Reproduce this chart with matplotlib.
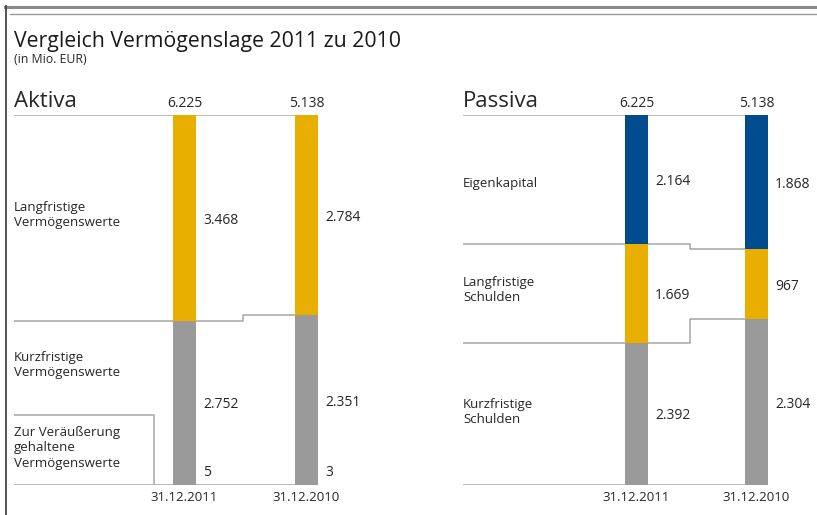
import matplotlib
matplotlib.use("Agg")
import matplotlib.pyplot as plt
from matplotlib.lines import Line2D
import numpy as np

plt.rcParams['font.family'] = ['Open Sans', 'DejaVu Sans']

# ---------------- data ----------------
dates = ['31.12.2011', '31.12.2010']

aktiva_categories = ['Langfristige\nVermögenswerte', 'Kurzfristige\nVermögenswerte',
                     'Zur Veräußerung\ngehaltene\nVermögenswerte']
aktiva_2011 = [3468, 2752, 5]
aktiva_2010 = [2784, 2351, 3]
aktiva_totals = [6225, 5138]

passiva_categories = ['Eigenkapital', 'Langfristige\nSchulden', 'Kurzfristige\nSchulden']
passiva_2011 = [2164, 1669, 2392]
passiva_2010 = [1868, 967, 2304]
passiva_totals = [6225, 5138]

# ---------------- style ----------------
YELLOW = '#E9AF00'
GRAY = '#9A9A9A'
BLUE = '#004A8E'
DARK = '#222222'
LINE = '#A5A5A5'
TXT = '#262626'

W, H = 817, 515
fig = plt.figure(figsize=(W / 100, H / 100), dpi=100)


def fmt(v):
    return f"{v:,}".replace(',', '.')


def draw_panel(left_px, spacing_px, bar_w_px, right_pad_px, first_off_px,
               title, cats, v2011, v2010, totals, colors, label_y, step_x):
    width_px = first_off_px + spacing_px + right_pad_px
    ax = fig.add_axes([left_px / W, 30 / H, width_px / W, 370 / H])
    xl = -first_off_px / spacing_px
    xr = 1 + right_pad_px / spacing_px
    ax.set_xlim(xl, xr)
    ax.set_ylim(0, 1)
    ax.axis('off')
    bw = bar_w_px / spacing_px
    x = np.arange(2)

    series = [v2011, v2010]
    fracs = []
    for i, vals in enumerate(series):
        tot = totals[i]
        order = list(range(len(vals)))[::-1]
        bottom = 0.0
        seg = {}
        for k in order:
            h = vals[k] / tot
            small = h < 0.003
            ax.bar(x[i], h, bottom=bottom, width=bw, color=colors[k],
                   edgecolor=colors[k] if small else 'none',
                   linewidth=1.0 if small else 0, zorder=3)
            seg[k] = (bottom, bottom + h)
            bottom += h
        fracs.append(seg)
        for k in range(len(vals)):
            b0, b1 = seg[k]
            yc = (b0 + b1) / 2
            if (b1 - b0) < 0.003:
                yc = 0.04
            ax.annotate(fmt(vals[k]), (x[i] + bw / 2, yc), xytext=(5, 0),
                        textcoords='offset points', ha='left', va='center_baseline',
                        fontsize=10, color=TXT)
        ax.annotate(fmt(tot), (x[i], 1), xytext=(0, 6), textcoords='offset points',
                    ha='center', va='baseline', fontsize=10, color=TXT)
        ax.annotate(dates[i], (x[i], 0), xytext=(0, -4), textcoords='offset points',
                    ha='center', va='top', fontsize=9.5, color=TXT)

    right = x[1] + bw / 2
    ax.plot([xl, right], [1, 1], color=LINE, lw=1.1, zorder=1)
    ax.plot([xl, right], [0, 0], color=LINE, lw=1.1, zorder=1)
    for k in range(len(cats) - 1):
        y1 = fracs[0][k][0]
        y2 = fracs[1][k][0]
        if fracs[0][k + 1][1] - fracs[0][k + 1][0] < 0.003:
            continue
        ax.plot([xl, step_x, step_x, right], [y1, y1, y2, y2],
                color=LINE, lw=1.1, zorder=1)

    ax.annotate(title, (0, 1), xycoords='axes fraction', xytext=(0, 5.5),
                textcoords='offset points', ha='left', va='baseline',
                fontsize=16, color=TXT)
    for k, c in enumerate(cats):
        ax.text(0, label_y[k], c, transform=ax.get_yaxis_transform(),
                ha='left', va='center', fontsize=9.5, color=TXT, linespacing=1.25)
    return ax


ax1 = draw_panel(14, 122, 23, 11.5, 170.5, 'Aktiva', aktiva_categories,
                 aktiva_2011, aktiva_2010, aktiva_totals,
                 [YELLOW, GRAY, DARK], [0.73, 0.325, 0.10], 0.48)
box_x = (154 - 184.5) / 122
box_y = 0.189
ax1.plot([ax1.get_xlim()[0], box_x, box_x], [box_y, box_y, 0], color=LINE, lw=1.1, zorder=1)

ax2 = draw_panel(463, 120, 23, 11.5, 173.5, 'Passiva', passiva_categories,
                 passiva_2011, passiva_2010, passiva_totals,
                 [BLUE, YELLOW, GRAY], [0.815, 0.527, 0.197], 0.445)

fig.text(14 / W, 1 - 47 / H, 'Vergleich Vermögenslage 2011 zu 2010', ha='left',
         va='baseline', fontsize=15.3, color='#1a1a1a')
fig.text(14 / W, 1 - 63 / H, '(in Mio. EUR)', ha='left', va='baseline',
         fontsize=8.8, color=TXT)

fig.add_artist(Line2D([5 / W, 1], [1 - 7 / H, 1 - 7 / H], transform=fig.transFigure,
                      color='#8a8a8a', lw=2.2))
fig.add_artist(Line2D([10 / W, 1], [1 - 14 / H, 1 - 14 / H], transform=fig.transFigure,
                      color='#9a9a9a', lw=1.0))
fig.add_artist(Line2D([5.5 / W, 5.5 / W], [0, 1 - 6 / H], transform=fig.transFigure,
                      color='#444444', lw=1.3))

fig.savefig('out.png', dpi=100, facecolor='white')
